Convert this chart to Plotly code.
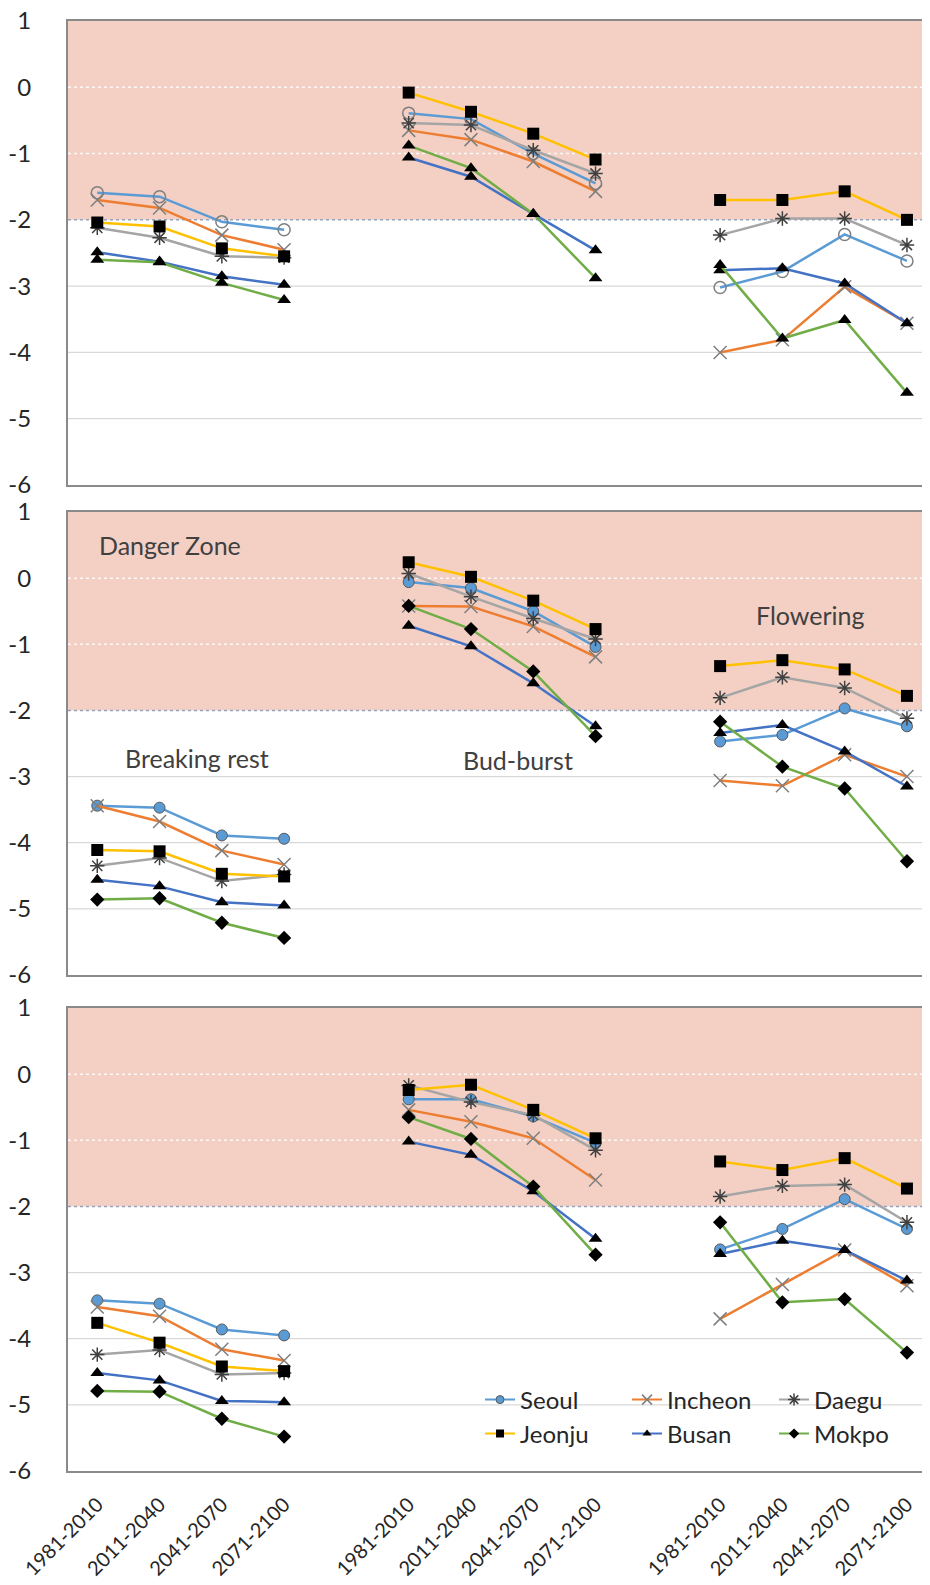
import plotly.graph_objects as go

# ---------------- data ----------------
PERIODS = ["1981-2010", "2011-2040", "2041-2070", "2071-2100"]
STAGES = ["Breaking rest", "Bud-burst", "Flowering"]
CITIES = ["Seoul", "Incheon", "Daegu", "Jeonju", "Busan", "Mokpo"]
DANGER_THRESHOLD = -2
Y_MIN, Y_MAX = -6, 1
Y_TICKS = [1, 0, -1, -2, -3, -4, -5, -6]

# values per city: Breaking rest (4) + Bud-burst (4) + Flowering (4)
# Panel 1 (top)
P1_SEOUL   = [-1.59, -1.65, -2.03, -2.15,  -0.39, -0.48, -1.00, -1.45,  -3.02, -2.78, -2.22, -2.62]
P1_INCHEON = [-1.70, -1.82, -2.23, -2.45,  -0.65, -0.79, -1.12, -1.57,  -4.00, -3.81, -3.01, -3.56]
P1_DAEGU   = [-2.12, -2.27, -2.55, -2.57,  -0.54, -0.57, -0.95, -1.30,  -2.23, -1.98, -1.98, -2.38]
P1_JEONJU  = [-2.04, -2.10, -2.43, -2.55,  -0.08, -0.37, -0.70, -1.09,  -1.70, -1.70, -1.57, -2.00]
P1_BUSAN   = [-2.49, -2.63, -2.85, -2.98,  -1.06, -1.35, -1.91, -2.46,  -2.76, -2.73, -2.96, -3.56]
P1_MOKPO   = [-2.60, -2.64, -2.95, -3.21,  -0.88, -1.22, -1.91, -2.88,  -2.68, -3.79, -3.51, -4.61]

# Panel 2 (middle)
P2_SEOUL   = [-3.44, -3.47, -3.89, -3.94,  -0.06, -0.15, -0.50, -1.04,  -2.47, -2.37, -1.97, -2.24]
P2_INCHEON = [-3.44, -3.68, -4.12, -4.33,  -0.42, -0.43, -0.73, -1.19,  -3.06, -3.14, -2.67, -3.00]
P2_DAEGU   = [-4.35, -4.23, -4.58, -4.48,   0.07, -0.28, -0.61, -0.92,  -1.81, -1.50, -1.66, -2.12]
P2_JEONJU  = [-4.11, -4.13, -4.47, -4.51,   0.24,  0.02, -0.34, -0.77,  -1.33, -1.24, -1.38, -1.78]
P2_BUSAN   = [-4.56, -4.66, -4.90, -4.95,  -0.72, -1.03, -1.59, -2.24,  -2.34, -2.22, -2.62, -3.15]
P2_MOKPO   = [-4.86, -4.84, -5.21, -5.44,  -0.42, -0.77, -1.41, -2.39,  -2.17, -2.85, -3.18, -4.28]

# Panel 3 (bottom)
P3_SEOUL   = [-3.42, -3.47, -3.86, -3.95,  -0.38, -0.38, -0.64, -1.04,  -2.65, -2.34, -1.89, -2.34]
P3_INCHEON = [-3.52, -3.66, -4.16, -4.33,  -0.54, -0.72, -0.97, -1.60,  -3.70, -3.18, -2.66, -3.20]
P3_DAEGU   = [-4.24, -4.17, -4.54, -4.52,  -0.17, -0.42, -0.62, -1.15,  -1.85, -1.69, -1.67, -2.24]
P3_JEONJU  = [-3.76, -4.06, -4.42, -4.49,  -0.24, -0.16, -0.54, -0.97,  -1.32, -1.45, -1.27, -1.73]
P3_BUSAN   = [-4.52, -4.63, -4.94, -4.96,  -1.02, -1.22, -1.77, -2.49,  -2.72, -2.52, -2.66, -3.12]
P3_MOKPO   = [-4.79, -4.80, -5.21, -5.48,  -0.65, -0.98, -1.70, -2.73,  -2.24, -3.45, -3.40, -4.21]

PANELS = [
    [P1_SEOUL, P1_INCHEON, P1_DAEGU, P1_JEONJU, P1_BUSAN, P1_MOKPO],
    [P2_SEOUL, P2_INCHEON, P2_DAEGU, P2_JEONJU, P2_BUSAN, P2_MOKPO],
    [P3_SEOUL, P3_INCHEON, P3_DAEGU, P3_JEONJU, P3_BUSAN, P3_MOKPO],
]

# ---------------- style ----------------
FONT = "Lato"
TXT = "#262626"
LINE_COLORS = {"Seoul": "#5B9BD5", "Incheon": "#ED7D31", "Daegu": "#A5A5A5",
               "Jeonju": "#FFC000", "Busan": "#4472C4", "Mokpo": "#70AD47"}
PINK = "#f4d0c4"
BORDER = "#8a8a8a"
GRID = "#d9d9d9"


def marker_for(city, panel):
    if city == "Seoul":
        if panel == 0:
            return dict(symbol="circle-open", size=12, color="#7f7f7f", line=dict(width=1.5, color="#7f7f7f"))
        return dict(symbol="circle", size=11, color="#5B9BD5", line=dict(width=1, color="#595959"))
    if city == "Incheon":
        return dict(symbol="x-thin-open", size=13, color="#7f7f7f", line=dict(width=1.5, color="#7f7f7f"))
    if city == "Daegu":
        return dict(symbol="asterisk-open", size=12, color="#404040", line=dict(width=1.5, color="#404040"))
    if city == "Jeonju":
        return dict(symbol="square", size=12, color="black")
    if city == "Busan":
        return dict(symbol="triangle-up", size=12, color="black")
    if city == "Mokpo":
        if panel == 0:
            return dict(symbol="triangle-up", size=12, color="black")
        return dict(symbol="diamond", size=11, color="black")


n_per = len(PERIODS)
slot = n_per + 1
tick_x = [s * slot + p for s in range(len(STAGES)) for p in range(n_per)]
x_full = list(range(len(STAGES) * slot - 1))


def expand(vals):
    out = [None] * len(x_full)
    for xi, v in zip(tick_x, vals):
        out[xi] = v
    return out


fig = go.Figure()

for pi, panel in enumerate(PANELS):
    ax = "" if pi == 0 else str(pi + 1)
    for city, vals in zip(CITIES, panel):
        fig.add_trace(go.Scatter(
            x=x_full, y=expand(vals), mode="lines+markers", name=city,
            line=dict(color=LINE_COLORS[city], width=2.5),
            marker=marker_for(city, pi), connectgaps=False, showlegend=False,
            xaxis="x" + ax, yaxis="y" + ax, hoverinfo="skip"))

# legend entries (two rows)
for i, city in enumerate(CITIES):
    m = dict(marker_for(city, 2))
    m["size"] = 8 if city not in ("Incheon", "Daegu") else 10
    fig.add_trace(go.Scatter(
        x=[None], y=[None], mode="lines+markers", name=city,
        line=dict(color=LINE_COLORS[city], width=2), marker=m,
        legend="legend" if i < 3 else "legend2", xaxis="x3", yaxis="y3"))

# domains (paper fraction)
H_PLOT = 1450.0
domains = [[1 - 464 / H_PLOT, 1.0], [1 - 954 / H_PLOT, 1 - 491 / H_PLOT], [0.0, 463 / H_PLOT]]

X_RANGE = [-0.47, 13.37]
layout = dict(
    width=930, height=1585,
    margin=dict(l=60, r=8, t=13, b=122),
    paper_bgcolor="white", plot_bgcolor="white",
    font=dict(family=FONT, color=TXT, size=22),
)
for pi in range(3):
    ax = "" if pi == 0 else str(pi + 1)
    layout["xaxis" + ax] = dict(
        domain=[0, 1], range=X_RANGE, anchor="y" + ax,
        tickvals=tick_x, ticktext=PERIODS * len(STAGES),
        showticklabels=(pi == 2), tickangle=-45, tickfont=dict(size=20, color=TXT),
        showgrid=False, zeroline=False, showline=True, mirror=True,
        linecolor=BORDER, linewidth=2, ticks="", ticklabelstandoff=12, automargin=False,
        ticklabeloverflow="allow")
    layout["yaxis" + ax] = dict(
        domain=domains[pi], range=[Y_MIN, Y_MAX], anchor="x" + ax,
        tickvals=Y_TICKS, ticktext=[str(t) for t in Y_TICKS], tickfont=dict(size=24, color=TXT),
        showgrid=False, zeroline=False, automargin=False, ticklabeloverflow="allow",
        showline=True, linecolor=BORDER, linewidth=2, ticks="", ticklabelstandoff=30)

shapes = []
for pi in range(3):
    ax = "" if pi == 0 else str(pi + 1)
    xr = "x" + ax + " domain"
    yr = "y" + ax
    shapes.append(dict(type="rect", xref=xr, yref=yr, x0=0, x1=1, y0=DANGER_THRESHOLD, y1=Y_MAX,
                       fillcolor=PINK, line=dict(width=0), layer="below"))
    for gy in Y_TICKS:
        if gy in (Y_MIN, Y_MAX, DANGER_THRESHOLD):
            continue
        if gy > DANGER_THRESHOLD:
            ln = dict(color="rgba(255,255,255,0.85)", width=1.5, dash="dot")
        else:
            ln = dict(color=GRID, width=1.2)
        shapes.append(dict(type="line", xref=xr, yref=yr, x0=0, x1=1, y0=gy, y1=gy,
                           line=ln, layer="below"))
    shapes.append(dict(type="line", xref=xr, yref=yr, x0=0, x1=1,
                       y0=DANGER_THRESHOLD, y1=DANGER_THRESHOLD,
                       line=dict(color="#93a3bb", width=1.5, dash="dot"), layer="below"))
layout["shapes"] = shapes

ann_font = dict(family=FONT, size=25, color="#404040")
layout["annotations"] = [
    dict(text="Danger Zone", x=1.17, y=0.5, xref="x2", yref="y2", showarrow=False, font=ann_font),
    dict(text=STAGES[0], x=1.6, y=-2.72, xref="x2", yref="y2", showarrow=False, font=ann_font),
    dict(text=STAGES[1], x=6.75, y=-2.75, xref="x2", yref="y2", showarrow=False, font=ann_font),
    dict(text=STAGES[2], x=11.45, y=-0.56, xref="x2", yref="y2", showarrow=False, font=ann_font),
]

leg_common = dict(orientation="h", xanchor="left", yanchor="middle", x=0.478,
                  bgcolor="rgba(0,0,0,0)", borderwidth=0, entrywidth=102, entrywidthmode="pixels",
                  font=dict(family=FONT, size=24, color=TXT), itemwidth=30, tracegroupgap=0)
layout["legend"] = dict(leg_common, y=(1471 - 1400) / H_PLOT)
layout["legend2"] = dict(leg_common, y=(1471 - 1434) / H_PLOT)

fig.update_layout(**layout)
fig.write_html("out.html")
